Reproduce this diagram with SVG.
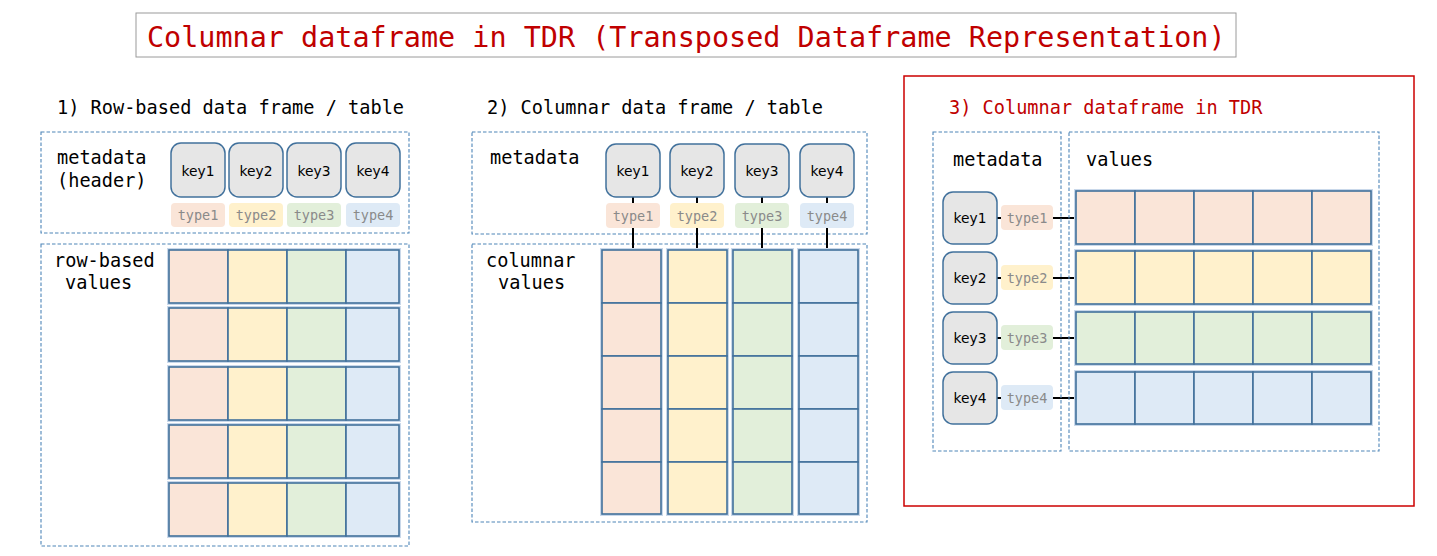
<svg xmlns="http://www.w3.org/2000/svg" width="1437" height="556" viewBox="0 0 1437 556">
<style>
.mono{font-family:"DejaVu Sans Mono","Liberation Mono",monospace}
.title{font-size:28.45px;fill:#c00000}
.head{font-size:18.6px;fill:#000}
.headr{font-size:18.6px;fill:#c00000}
.lbl{font-size:18.6px;fill:#000}
.dash{fill:none;stroke:#4f86b8;stroke-width:1.1;stroke-dasharray:3.5 2}
.key{fill:#e6e6e6;stroke:#41719c;stroke-width:1.5}
.keyt{font-family:"DejaVu Sans","Noto Sans",sans-serif;font-size:13.8px;fill:#000;text-anchor:middle;dominant-baseline:central}
.typt{font-family:"DejaVu Sans Mono","Liberation Mono",monospace;font-size:13.5px;fill:#8a8a8a;text-anchor:middle;dominant-baseline:central}
.cell{stroke:#41719c;stroke-width:1.6}
.halo{fill:none;stroke:#c9d8ea;stroke-width:4}
.c1{fill:#fae5d8}.c2{fill:#fff1cc}.c3{fill:#e2efda}.c4{fill:#deeaf6}
.conn{stroke:#000;stroke-width:2;fill:none}
</style>

<g id="title">
<rect x="136" y="13" width="1100" height="44" fill="#fff" stroke="#9a9a9a" stroke-width="1"/>
<text class="mono title" x="147" y="47">Columnar dataframe in TDR (Transposed Dataframe Representation)</text>
</g>

<!-- Panel 1 -->
<g id="panel1">
<text class="mono head" x="57" y="114">1) Row-based data frame / table</text>
<rect class="dash" x="41" y="132" width="368" height="101"/>
<rect class="dash" x="41" y="244" width="368" height="302"/>
<text class="mono lbl" x="57" y="164">metadata</text>
<text class="mono lbl" x="57" y="187">(header)</text>
<text class="mono lbl" x="54" y="267">row-based</text>
<text class="mono lbl" x="65" y="289">values</text>
</g>
<g id="p1-key1"><rect class="key" x="171" y="143" width="54" height="54" rx="10"/><text class="keyt" x="198" y="171">key1</text></g>
<g id="p1-key2"><rect class="key" x="229" y="143" width="54" height="54" rx="10"/><text class="keyt" x="256" y="171">key2</text></g>
<g id="p1-key3"><rect class="key" x="287" y="143" width="54" height="54" rx="10"/><text class="keyt" x="314" y="171">key3</text></g>
<g id="p1-key4"><rect class="key" x="346" y="143" width="54" height="54" rx="10"/><text class="keyt" x="373" y="171">key4</text></g>
<g id="p1-type1"><rect class="c1" x="171" y="203" width="54" height="24" rx="4"/><text class="typt" x="198" y="215">type1</text></g>
<g id="p1-type2"><rect class="c2" x="229" y="203" width="54" height="24" rx="4"/><text class="typt" x="256" y="215">type2</text></g>
<g id="p1-type3"><rect class="c3" x="287" y="203" width="54" height="24" rx="4"/><text class="typt" x="314" y="215">type3</text></g>
<g id="p1-type4"><rect class="c4" x="346" y="203" width="54" height="24" rx="4"/><text class="typt" x="373" y="215">type4</text></g>
<g id="p1-rows">
<g id="p1-row1"><rect class="halo" x="169" y="250" width="230" height="53"/><rect class="cell c1" x="169" y="250" width="59" height="53"/><rect class="cell c2" x="228" y="250" width="59" height="53"/><rect class="cell c3" x="287" y="250" width="59" height="53"/><rect class="cell c4" x="346" y="250" width="53" height="53"/></g>
<g id="p1-row2"><rect class="halo" x="169" y="308" width="230" height="53"/><rect class="cell c1" x="169" y="308" width="59" height="53"/><rect class="cell c2" x="228" y="308" width="59" height="53"/><rect class="cell c3" x="287" y="308" width="59" height="53"/><rect class="cell c4" x="346" y="308" width="53" height="53"/></g>
<g id="p1-row3"><rect class="halo" x="169" y="367" width="230" height="53"/><rect class="cell c1" x="169" y="367" width="59" height="53"/><rect class="cell c2" x="228" y="367" width="59" height="53"/><rect class="cell c3" x="287" y="367" width="59" height="53"/><rect class="cell c4" x="346" y="367" width="53" height="53"/></g>
<g id="p1-row4"><rect class="halo" x="169" y="425" width="230" height="53"/><rect class="cell c1" x="169" y="425" width="59" height="53"/><rect class="cell c2" x="228" y="425" width="59" height="53"/><rect class="cell c3" x="287" y="425" width="59" height="53"/><rect class="cell c4" x="346" y="425" width="53" height="53"/></g>
<g id="p1-row5"><rect class="halo" x="169" y="483" width="230" height="53"/><rect class="cell c1" x="169" y="483" width="59" height="53"/><rect class="cell c2" x="228" y="483" width="59" height="53"/><rect class="cell c3" x="287" y="483" width="59" height="53"/><rect class="cell c4" x="346" y="483" width="53" height="53"/></g>
</g>

<!-- Panel 2 -->
<g id="panel2">
<text class="mono head" x="487" y="114">2) Columnar data frame / table</text>
<rect class="dash" x="472" y="132" width="395" height="102"/>
<rect class="dash" x="472" y="244" width="395" height="278"/>
<text class="mono lbl" x="490" y="164">metadata</text>
<text class="mono lbl" x="486" y="267">columnar</text>
<text class="mono lbl" x="498" y="289">values</text>
</g>

<g id="connectors">
<line class="conn" x1="633" y1="197" x2="633" y2="250"/>
<line class="conn" x1="697" y1="197" x2="697" y2="250"/>
<line class="conn" x1="762" y1="197" x2="762" y2="250"/>
<line class="conn" x1="827" y1="197" x2="827" y2="250"/>
<line class="conn" x1="997" y1="218" x2="1076" y2="218"/>
<line class="conn" x1="997" y1="278" x2="1076" y2="278"/>
<line class="conn" x1="997" y1="338" x2="1076" y2="338"/>
<line class="conn" x1="997" y1="398" x2="1076" y2="398"/>
</g>

<g id="p2-key1"><rect class="key" x="606" y="144" width="54" height="53" rx="10"/><text class="keyt" x="633" y="171">key1</text></g>
<g id="p2-key2"><rect class="key" x="670" y="144" width="54" height="53" rx="10"/><text class="keyt" x="697" y="171">key2</text></g>
<g id="p2-key3"><rect class="key" x="735" y="144" width="54" height="53" rx="10"/><text class="keyt" x="762" y="171">key3</text></g>
<g id="p2-key4"><rect class="key" x="800" y="144" width="54" height="53" rx="10"/><text class="keyt" x="827" y="171">key4</text></g>
<g id="p2-type1"><rect class="c1" x="606" y="203" width="54" height="25" rx="4"/><text class="typt" x="633" y="216">type1</text></g>
<g id="p2-type2"><rect class="c2" x="670" y="203" width="54" height="25" rx="4"/><text class="typt" x="697" y="216">type2</text></g>
<g id="p2-type3"><rect class="c3" x="735" y="203" width="54" height="25" rx="4"/><text class="typt" x="762" y="216">type3</text></g>
<g id="p2-type4"><rect class="c4" x="800" y="203" width="54" height="25" rx="4"/><text class="typt" x="827" y="216">type4</text></g>
<g id="p2-cols">
<g id="p2-col1"><rect class="halo" x="602" y="250" width="59" height="264"/><rect class="cell c1" x="602" y="250" width="59" height="53"/><rect class="cell c1" x="602" y="303" width="59" height="53"/><rect class="cell c1" x="602" y="356" width="59" height="53"/><rect class="cell c1" x="602" y="409" width="59" height="53"/><rect class="cell c1" x="602" y="462" width="59" height="52"/></g>
<g id="p2-col2"><rect class="halo" x="668" y="250" width="59" height="264"/><rect class="cell c2" x="668" y="250" width="59" height="53"/><rect class="cell c2" x="668" y="303" width="59" height="53"/><rect class="cell c2" x="668" y="356" width="59" height="53"/><rect class="cell c2" x="668" y="409" width="59" height="53"/><rect class="cell c2" x="668" y="462" width="59" height="52"/></g>
<g id="p2-col3"><rect class="halo" x="733" y="250" width="59" height="264"/><rect class="cell c3" x="733" y="250" width="59" height="53"/><rect class="cell c3" x="733" y="303" width="59" height="53"/><rect class="cell c3" x="733" y="356" width="59" height="53"/><rect class="cell c3" x="733" y="409" width="59" height="53"/><rect class="cell c3" x="733" y="462" width="59" height="52"/></g>
<g id="p2-col4"><rect class="halo" x="799" y="250" width="59" height="264"/><rect class="cell c4" x="799" y="250" width="59" height="53"/><rect class="cell c4" x="799" y="303" width="59" height="53"/><rect class="cell c4" x="799" y="356" width="59" height="53"/><rect class="cell c4" x="799" y="409" width="59" height="53"/><rect class="cell c4" x="799" y="462" width="59" height="52"/></g>
</g>

<!-- Panel 3 -->
<g id="panel3">
<rect x="904" y="76" width="510" height="430" fill="none" stroke="#cc0000" stroke-width="1.5"/>
<text class="mono headr" x="949" y="114">3) Columnar dataframe in TDR</text>
<rect class="dash" x="933" y="132" width="128" height="319"/>
<rect class="dash" x="1069" y="132" width="310" height="319"/>
<text class="mono lbl" x="953" y="166">metadata</text>
<text class="mono lbl" x="1086" y="166">values</text>
</g>
<g id="p3-key1"><rect class="key" x="943" y="192" width="54" height="52" rx="10"/><text class="keyt" x="970" y="218">key1</text></g>
<g id="p3-key2"><rect class="key" x="943" y="252" width="54" height="52" rx="10"/><text class="keyt" x="970" y="278">key2</text></g>
<g id="p3-key3"><rect class="key" x="943" y="312" width="54" height="52" rx="10"/><text class="keyt" x="970" y="338">key3</text></g>
<g id="p3-key4"><rect class="key" x="943" y="372" width="54" height="52" rx="10"/><text class="keyt" x="970" y="398">key4</text></g>
<g id="p3-type1"><rect class="c1" x="1001" y="205" width="52" height="25" rx="4"/><text class="typt" x="1027" y="218">type1</text></g>
<g id="p3-type2"><rect class="c2" x="1001" y="265" width="52" height="25" rx="4"/><text class="typt" x="1027" y="278">type2</text></g>
<g id="p3-type3"><rect class="c3" x="1001" y="325" width="52" height="25" rx="4"/><text class="typt" x="1027" y="338">type3</text></g>
<g id="p3-type4"><rect class="c4" x="1001" y="385" width="52" height="25" rx="4"/><text class="typt" x="1027" y="398">type4</text></g>
<g id="p3-rows">
<g id="p3-row1"><rect class="halo" x="1076" y="191" width="295" height="53"/><rect class="cell c1" x="1076" y="191" width="59" height="53"/><rect class="cell c1" x="1135" y="191" width="59" height="53"/><rect class="cell c1" x="1194" y="191" width="59" height="53"/><rect class="cell c1" x="1253" y="191" width="59" height="53"/><rect class="cell c1" x="1312" y="191" width="59" height="53"/></g>
<g id="p3-row2"><rect class="halo" x="1076" y="251" width="295" height="53"/><rect class="cell c2" x="1076" y="251" width="59" height="53"/><rect class="cell c2" x="1135" y="251" width="59" height="53"/><rect class="cell c2" x="1194" y="251" width="59" height="53"/><rect class="cell c2" x="1253" y="251" width="59" height="53"/><rect class="cell c2" x="1312" y="251" width="59" height="53"/></g>
<g id="p3-row3"><rect class="halo" x="1076" y="312" width="295" height="52"/><rect class="cell c3" x="1076" y="312" width="59" height="52"/><rect class="cell c3" x="1135" y="312" width="59" height="52"/><rect class="cell c3" x="1194" y="312" width="59" height="52"/><rect class="cell c3" x="1253" y="312" width="59" height="52"/><rect class="cell c3" x="1312" y="312" width="59" height="52"/></g>
<g id="p3-row4"><rect class="halo" x="1076" y="372" width="295" height="52"/><rect class="cell c4" x="1076" y="372" width="59" height="52"/><rect class="cell c4" x="1135" y="372" width="59" height="52"/><rect class="cell c4" x="1194" y="372" width="59" height="52"/><rect class="cell c4" x="1253" y="372" width="59" height="52"/><rect class="cell c4" x="1312" y="372" width="59" height="52"/></g>
</g>
</svg>
